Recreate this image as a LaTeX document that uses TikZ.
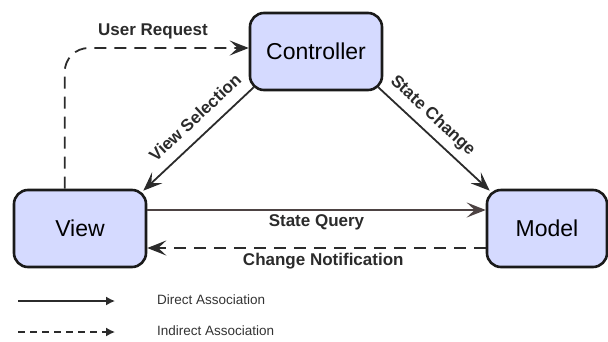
\documentclass[tikz,border=0pt]{standalone}
\usepackage{fontspec}
\setmainfont{Liberation Sans}
\usetikzlibrary{arrows.meta,calc}
\definecolor{boxfill}{HTML}{D5DAFF}
\definecolor{boxline}{HTML}{1A1A1A}
\definecolor{wire}{HTML}{2B2B2B}
\definecolor{querywire}{HTML}{4D4343}
\definecolor{legendtext}{HTML}{333333}
\begin{document}
\begin{tikzpicture}[x=1pt,y=-1pt,
  mvcbox/.style={draw=boxline, fill=boxfill, line width=2.6pt, rounded corners=14pt,
    minimum width=132pt, minimum height=77pt, inner sep=0pt,
    font=\fontsize{23}{26}\selectfont},
  bigtip/.style={-{Stealth[length=19pt,width=15pt,inset=8pt]}},
  assoc/.style={draw=wire, line width=1.8pt, bigtip},
  indirect/.style={assoc, dash pattern=on 12pt off 8pt},
  lbl/.style={font=\bfseries\fontsize{17}{19}\selectfont, text=wire},
  legendline/.style={draw=wire, line width=1.4pt, -{Latex[length=9pt,width=9pt]}},
  legendlbl/.style={anchor=west, text=legendtext, inner sep=0pt, font=\fontsize{13.5}{15}\selectfont}]
\useasboundingbox (0,0) rectangle (608,341);

% the three components
\node[mvcbox] (ctrl) at (316,51.5) {Controller};
\node[mvcbox] (view) at (80,228.5) {View};
\node[mvcbox, minimum width=120pt] (model) at (547,228.5) {Model};

% connectors between the components
\coordinate (vsA) at ($(ctrl.south west)+(5,-4)$);
\coordinate (vsB) at ($(view.north east)+(-4,2)$);
\draw[assoc] (vsA) -- node[lbl, pos=0.42, sloped, above, inner sep=11pt] (vslbl) {View Selection} (vsB);

\coordinate (scA) at ($(ctrl.south east)+(-5,-4)$);
\coordinate (scB) at ($(model.north west)+(4,2)$);
\draw[assoc] (scA) -- node[lbl, pos=0.39, sloped, above, inner sep=7pt] (sclbl) {State Change} (scB);

\coordinate (sqA) at ($(view.east)+(0,-18.5)$);
\coordinate (sqB) at ($(model.west)+(0,-18.5)$);
\draw[assoc, draw=querywire] (sqA) -- node[lbl, below, inner sep=4pt] (sqlbl) {State Query} (sqB);

\coordinate (cnA) at ($(model.west)+(0,19.5)$);
\coordinate (cnB) at ($(view.east)+(0,19.5)$);
\draw[indirect] (cnA) -- node[lbl, pos=0.48, below, inner sep=4pt] (cnlbl) {Change Notification} (cnB);

\coordinate (urA) at ($(view.north west)+(52,0)$);
\coordinate (urB) at ($(ctrl.west)+(0,-3.5)$);
\draw[indirect, rounded corners=24pt] (urA) |- (urB);
\node[lbl] (urlbl) at (153,31) {User Request};

% legend
\coordinate (l1A) at (18,301);
\coordinate (l1B) at (115,301);
\draw[legendline] (l1A) -- (l1B);
\node[legendlbl] (l1) at (157,300) {Direct Association};
\coordinate (l2A) at (18,332);
\coordinate (l2B) at (115,332);
\draw[legendline, dash pattern=on 7pt off 5pt] (l2A) -- (l2B);
\node[legendlbl] (l2) at (157,331) {Indirect Association};
\end{tikzpicture}
\end{document}
